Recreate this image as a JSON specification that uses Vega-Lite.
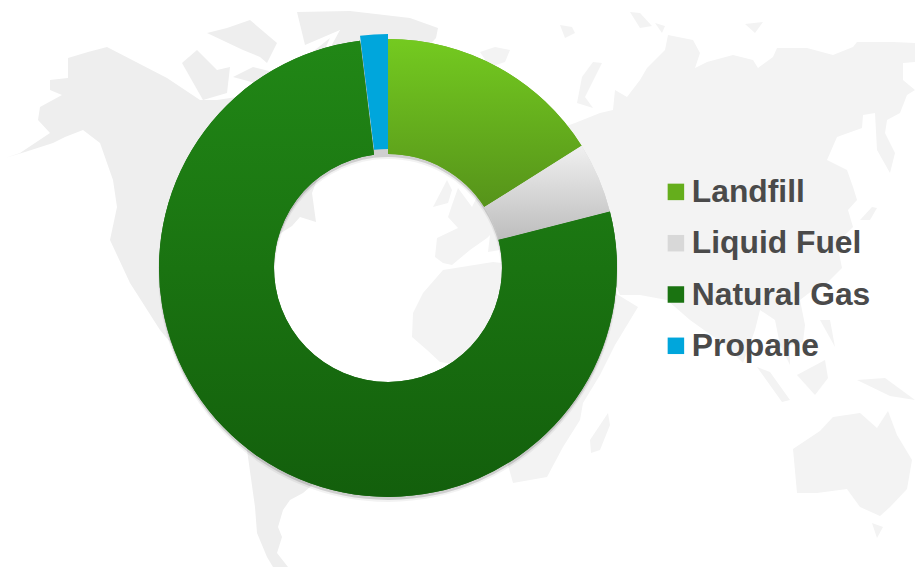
{
"$schema":"https://vega.github.io/schema/vega-lite/v6.json",
"width":915,"height":567,"padding":0,"autosize":{"type":"none"},
"background":"white",
"config":{"view":{"stroke":null}},
"datasets":{"slices":[
{"source":"Landfill","start":0,"end":16.03},
{"source":"Liquid Fuel","start":16.03,"end":21.03},
{"source":"Natural Gas","start":21.03,"end":98.05},
{"source":"Propane","start":98.05,"end":100}
]},
"layer":[
{"data":{"values":{"type":"FeatureCollection","features":[
{"type":"Feature","properties":{"n":"North America","west":true},"geometry":{"type":"Polygon","coordinates":[[[107,47],[88,52],[68,58],[68,78],[50,80],[50,90],[62,95],[40,107],[38,120],[50,133],[20,153],[5,158],[25,152],[53,143],[65,137],[83,130],[100,143],[113,180],[117,207],[110,240],[130,283],[160,330],[185,360],[230,390],[262,300],[278,235],[292,226],[300,217],[316,222],[312,193],[340,120],[300,85],[250,95],[217,100],[200,100],[167,78],[140,75]]]}},
{"type":"Feature","properties":{"n":"Banks","west":true},"geometry":{"type":"Polygon","coordinates":[[[182,63],[197,50],[217,70],[230,67],[227,93],[203,100],[190,83]]]}},
{"type":"Feature","properties":{"n":"Victoria","west":true},"geometry":{"type":"Polygon","coordinates":[[[233,77],[253,67],[277,73],[262,85],[233,93]]]}},
{"type":"Feature","properties":{"n":"Ellesmere","west":true},"geometry":{"type":"Polygon","coordinates":[[[207,33],[227,28],[250,20],[277,43],[267,63],[260,57],[243,50],[230,53]]]}},
{"type":"Feature","properties":{"n":"Baffin","west":true},"geometry":{"type":"Polygon","coordinates":[[[282,72],[300,62],[330,38],[320,60],[305,85],[285,85]]]}},
{"type":"Feature","properties":{"n":"Greenland","west":true},"geometry":{"type":"Polygon","coordinates":[[[297,12],[350,11],[410,18],[438,28],[436,38],[415,60],[390,100],[350,100],[328,52],[340,30],[305,45],[283,40]]]}},
{"type":"Feature","properties":{"n":"South America","west":true},"geometry":{"type":"Polygon","coordinates":[[[240,400],[340,420],[330,470],[303,493],[290,500],[283,510],[278,527],[282,537],[277,553],[288,567],[273,567],[267,557],[257,533],[255,507],[258,463]]]}},
{"type":"Feature","properties":{"n":"Iceland"},"geometry":{"type":"Polygon","coordinates":[[[480,52],[495,47],[510,50],[505,62],[490,67],[482,60]]]}},
{"type":"Feature","properties":{"n":"Svalbard"},"geometry":{"type":"Polygon","coordinates":[[[560,25],[572,27],[575,33],[565,38],[560,36]]]}},
{"type":"Feature","properties":{"n":"Franz Josef"},"geometry":{"type":"Polygon","coordinates":[[[630,12],[640,13],[652,26],[640,28],[632,22]]]}},
{"type":"Feature","properties":{"n":"Franz Josef 2"},"geometry":{"type":"Polygon","coordinates":[[[655,23],[665,26],[662,33],[657,31]]]}},
{"type":"Feature","properties":{"n":"Severnaya"},"geometry":{"type":"Polygon","coordinates":[[[745,24],[763,22],[755,33],[750,32]]]}},
{"type":"Feature","properties":{"n":"Severnaya 2"},"geometry":{"type":"Polygon","coordinates":[[[770,21],[780,22],[775,25]]]}},
{"type":"Feature","properties":{"n":"Novaya Zemlya"},"geometry":{"type":"Polygon","coordinates":[[[602,63],[593,62],[582,77],[577,103],[593,108],[585,97],[587,80]]]}},
{"type":"Feature","properties":{"n":"UK"},"geometry":{"type":"Polygon","coordinates":[[[447,180],[452,190],[448,203],[433,207],[436,195]]]}},
{"type":"Feature","properties":{"n":"Eurasia"},"geometry":{"type":"Polygon","coordinates":[[[575,123],[600,113],[613,110],[615,90],[627,97],[640,80],[647,68],[665,50],[668,35],[693,40],[700,53],[695,68],[707,62],[733,55],[753,60],[758,68],[773,57],[777,48],[807,48],[833,55],[853,47],[857,42],[893,42],[915,43],[915,62],[903,63],[903,80],[915,90],[907,95],[900,113],[887,120],[885,133],[895,153],[890,173],[877,150],[875,113],[863,115],[862,128],[837,137],[827,160],[847,170],[853,187],[857,200],[848,210],[853,227],[837,243],[842,268],[825,285],[813,290],[800,300],[805,325],[803,342],[790,345],[790,365],[780,345],[775,320],[760,310],[755,330],[743,363],[725,345],[690,320],[667,300],[640,295],[620,295],[600,250],[500,250],[488,252],[490,235],[487,238],[470,250],[452,265],[443,263],[435,257],[437,238],[458,228],[448,217],[452,205],[458,188],[472,207],[500,150],[550,120]]]}},
{"type":"Feature","properties":{"n":"Africa"},"geometry":{"type":"Polygon","coordinates":[[[443,270],[493,262],[560,270],[610,290],[638,307],[615,345],[600,375],[583,403],[580,420],[563,447],[547,477],[513,483],[490,400],[460,365],[440,362],[427,350],[412,337],[413,313],[423,293],[433,280]]]}},
{"type":"Feature","properties":{"n":"Japan"},"geometry":{"type":"Polygon","coordinates":[[[860,220],[872,207],[877,208],[870,220],[860,225]]]}},
{"type":"Feature","properties":{"n":"Madagascar"},"geometry":{"type":"Polygon","coordinates":[[[608,413],[610,425],[600,450],[591,453],[590,440],[598,423]]]}},
{"type":"Feature","properties":{"n":"Sumatra"},"geometry":{"type":"Polygon","coordinates":[[[757,367],[770,372],[790,400],[782,402],[765,385]]]}},
{"type":"Feature","properties":{"n":"Borneo"},"geometry":{"type":"Polygon","coordinates":[[[797,375],[825,360],[828,378],[815,395],[800,395]]]}},
{"type":"Feature","properties":{"n":"Java"},"geometry":{"type":"Polygon","coordinates":[[[785,403],[820,408],[800,412]]]}},
{"type":"Feature","properties":{"n":"New Guinea"},"geometry":{"type":"Polygon","coordinates":[[[857,380],[885,378],[915,400],[890,396],[860,390]]]}},
{"type":"Feature","properties":{"n":"Philippines"},"geometry":{"type":"Polygon","coordinates":[[[820,320],[830,320],[835,347],[826,340]]]}},
{"type":"Feature","properties":{"n":"Australia"},"geometry":{"type":"Polygon","coordinates":[[[793,449],[820,431],[833,417],[860,413],[877,428],[888,411],[897,435],[912,460],[907,489],[890,507],[880,516],[860,507],[847,489],[817,493],[797,493],[795,467]]]}},
{"type":"Feature","properties":{"n":"Tasmania"},"geometry":{"type":"Polygon","coordinates":[[[872,523],[883,527],[877,538],[873,534]]]}}
]},"format":{"type":"json","property":"features"}},
"projection":{"type":"identity","scale":1,"translate":[0,0]},
"mark":{"type":"geoshape","stroke":null},
"encoding":{"fill":{"condition":{"test":"datum.properties.west","value":"#eeeeee"},"value":"#f3f3f3"}}},
{"data":{"name":"slices"},"mark":{"type":"arc","innerRadius":113,"outerRadius":230,"fill":"#000000","opacity":0.05},
"encoding":{"x":{"value":388},"y":{"value":272},"theta":{"field":"start","type":"quantitative","scale":{"domain":[0,100],"range":[0,6.2832]}},"theta2":{"field":"end"}}},
{"data":{"name":"slices"},"mark":{"type":"arc","innerRadius":114,"outerRadius":229,"fill":"#000000","opacity":0.14},
"encoding":{"x":{"value":388},"y":{"value":271},"theta":{"field":"start","type":"quantitative","scale":{"domain":[0,100],"range":[0,6.2832]}},"theta2":{"field":"end"}}},
{"data":{"name":"slices"},"transform":[{"filter":"datum.source !== 'Propane'"}],"mark":{"type":"arc","innerRadius":114,"outerRadius":229},
"encoding":{"x":{"value":388},"y":{"value":268},
"theta":{"field":"start","type":"quantitative","scale":{"domain":[0,100],"range":[0,6.2832]}},"theta2":{"field":"end"},
"color":{"field":"source","type":"nominal","scale":{"domain":["Landfill","Liquid Fuel","Natural Gas","Propane"],"range":["#65ae1c","#d8d8d8","#1a7311","#00a6dc"]},
"legend":{"title":null,"orient":"none","legendX":660,"legendY":176,"symbolType":"square","symbolSize":272,"symbolStrokeWidth":0,"labelFont":"Liberation Sans","labelFontWeight":"bold","labelFontSize":31.8,"labelColor":"#4a4a4a","labelLimit":260,"labelOffset":0,"rowPadding":18.3,"symbolOpacity":1}}}},
{"data":{"name":"slices"},"transform":[{"filter":"datum.source === 'Landfill'"}],
"mark":{"type":"arc","innerRadius":114,"outerRadius":229,"fill":{"gradient":"linear","x1":0,"y1":0,"x2":0,"y2":1,"stops":[{"offset":0,"color":"#74ca20"},{"offset":1,"color":"#56931a"}]}},
"encoding":{"x":{"value":388},"y":{"value":268},"theta":{"field":"start","type":"quantitative","scale":{"domain":[0,100],"range":[0,6.2832]}},"theta2":{"field":"end"}}},
{"data":{"name":"slices"},"transform":[{"filter":"datum.source === 'Liquid Fuel'"}],
"mark":{"type":"arc","innerRadius":114,"outerRadius":229,"fill":{"gradient":"linear","x1":0,"y1":0,"x2":0,"y2":1,"stops":[{"offset":0,"color":"#f0f0f0"},{"offset":1,"color":"#bdbdbd"}]}},
"encoding":{"x":{"value":388},"y":{"value":268},"theta":{"field":"start","type":"quantitative","scale":{"domain":[0,100],"range":[0,6.2832]}},"theta2":{"field":"end"}}},
{"data":{"name":"slices"},"transform":[{"filter":"datum.source === 'Natural Gas'"}],
"mark":{"type":"arc","innerRadius":114,"outerRadius":229,"fill":{"gradient":"linear","x1":0,"y1":0,"x2":0,"y2":1,"stops":[{"offset":0,"color":"#218716"},{"offset":1,"color":"#135f0c"}]}},
"encoding":{"x":{"value":388},"y":{"value":268},"theta":{"field":"start","type":"quantitative","scale":{"domain":[0,100],"range":[0,6.2832]}},"theta2":{"field":"end"}}},
{"data":{"name":"slices"},"transform":[{"filter":"datum.source === 'Propane'"}],"mark":{"type":"arc","innerRadius":114,"outerRadius":229,"fill":"#00a6dc"},
"encoding":{"x":{"value":388},"y":{"value":263},
"theta":{"field":"start","type":"quantitative","scale":{"domain":[0,100],"range":[0,6.2832]}},"theta2":{"field":"end"}}}
]}
